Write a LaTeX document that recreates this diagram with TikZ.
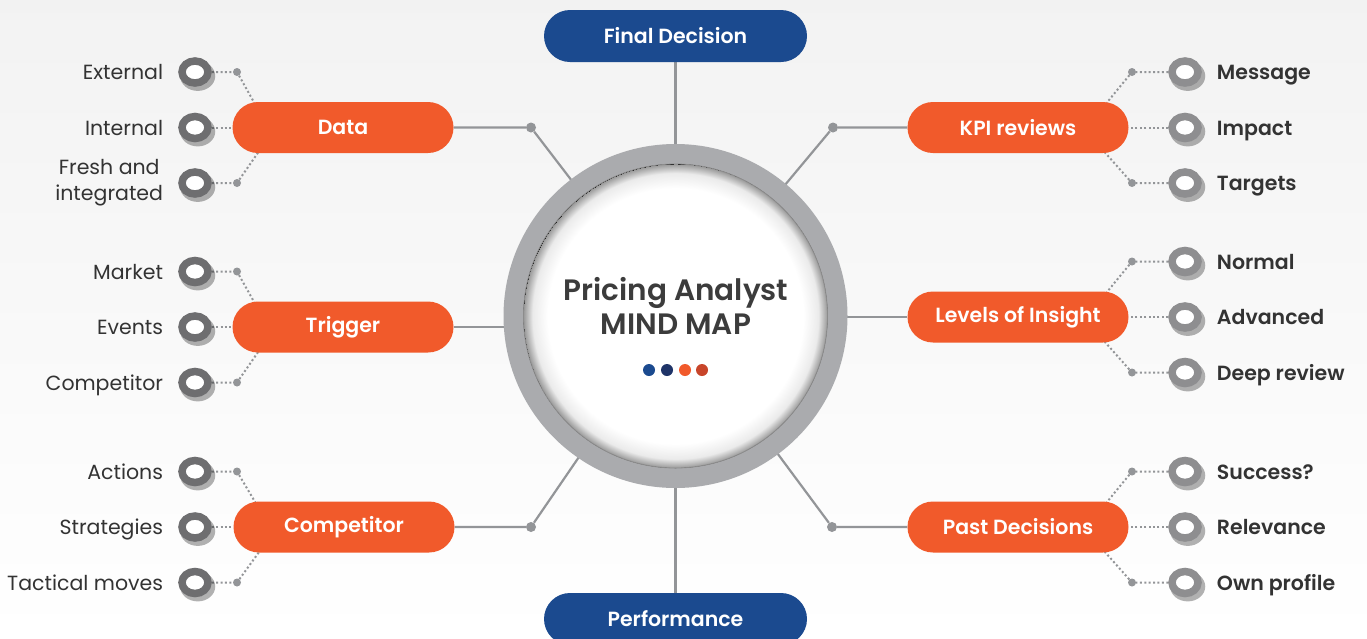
\documentclass[tikz,border=0pt]{standalone}
\usepackage{fontspec}
\setmainfont{Poppins}[BoldFont={Poppins SemiBold}]
\usetikzlibrary{calc,shadows,shapes.geometric}
\definecolor{orng}{HTML}{F15A2B}
\definecolor{navy}{HTML}{1B4A8F}
\definecolor{dotB}{HTML}{1F3468}
\definecolor{dotR}{HTML}{C8452A}
\definecolor{conncol}{HTML}{939598}
\definecolor{ringcol}{HTML}{AAABAE}
\definecolor{leafLcol}{HTML}{6E6E70}
\definecolor{leafRcol}{HTML}{8E8E90}
\definecolor{txt}{HTML}{333333}
\definecolor{ttlcol}{HTML}{3C3C3C}
\pgfdeclarelayer{back}
\pgfdeclarelayer{bg}
\pgfsetlayers{back,bg,main}
\pgfdeclareradialshading{innersh}{\pgfpoint{0bp}{0bp}}{color(0bp)=(white); color(21bp)=(white); color(23.5bp)=(black!8); color(25bp)=(black!40)}
\tikzset{
  pillO/.style={rectangle, rounded corners=25.5pt, fill=orng, text=white, font=\fontsize{20.5}{24}\selectfont\bfseries, minimum width=221pt, minimum height=51pt, inner sep=0pt},
  pillB/.style={rectangle, rounded corners=26pt, fill=navy, text=white, font=\fontsize{20.5}{24}\selectfont\bfseries, minimum width=263pt, minimum height=52pt, inner sep=0pt},
  leafL/.style={ellipse, draw=leafLcol, line width=7.5pt, fill=white, minimum width=26pt, minimum height=22pt, inner sep=0pt, drop shadow={shadow xshift=2pt, shadow yshift=-3pt, shadow scale=1.35, opacity=0.3, fill=black}},
  leafR/.style={leafL, draw=leafRcol},
  lblL/.style={text=txt, font=\fontsize{20.5}{26}\selectfont, align=center, inner sep=0pt},
  lblR/.style={text=txt, font=\fontsize{20.5}{26}\selectfont\bfseries, inner sep=0pt},
  jdot/.style={circle, fill=conncol, minimum size=8pt, inner sep=0pt},
  bigdot/.style={circle, fill=conncol, minimum size=10pt, inner sep=0pt},
  conn/.style={draw=conncol, line width=2.2pt},
  dotline/.style={draw=conncol, line width=2pt, dash pattern=on 2pt off 2.4pt},
  cdot/.style={circle, minimum size=12pt, inner sep=0pt}
}
\begin{document}
\begin{tikzpicture}[x=1pt,y=-1pt]
\begin{pgfonlayer}{back}
\fill[top color=black!5, bottom color=white] (0,0) rectangle (1367,638);
\end{pgfonlayer}
\useasboundingbox (0,0) rectangle (1367,638);

% centre
\node[circle, fill=ringcol, minimum size=344pt, inner sep=0pt] (circ) at (675.5,316) {};
\fill[shading=innersh] (circ.center) circle (152pt);
\draw[black!45, line width=0.8pt] (circ.center) circle (152pt);
\node[text=ttlcol, font=\fontsize{29.5}{34}\selectfont\bfseries, align=center] (ttl) at (676,306) {Pricing Analyst\\MIND MAP};
\node[cdot, fill=navy] (c1) at (649,370) {};
\node[cdot, fill=dotB] (c2) at (667,370) {};
\node[cdot, fill=orng] (c3) at (685,370) {};
\node[cdot, fill=dotR] (c4) at (702,370) {};

% main pills
\node[pillB] (fd) at (675.5,36) {Final Decision};
\node[pillB] (perf) at (675.5,619) {Performance};
\node[pillO] (data) at (343,127.5) {Data};
\node[pillO] (trig) at (343,327) {Trigger};
\node[pillO] (comp) at (344,527) {Competitor};
\node[pillO] (kpi) at (1018,127.5) {KPI reviews};
\node[pillO] (lev) at (1018,317) {Levels of Insight};
\node[pillO] (past) at (1018,527) {Past Decisions};

\node[bigdot] (dd) at (531,127.5) {};
\node[bigdot] (cd) at (531,527) {};
\node[bigdot] (kd) at (833,127.5) {};
\node[bigdot] (pd) at (832,527) {};

\begin{pgfonlayer}{bg}
\draw[conn] (fd) -- (circ);
\draw[conn] (perf) -- (circ);
\draw[conn] (data.east) -- (dd) -- (circ.center);
\draw[conn] (comp.east) -- (cd) -- (circ.center);
\draw[conn] (kpi.west) -- (kd) -- (circ.center);
\draw[conn] (past.west) -- (pd) -- (circ.center);
\draw[conn] (trig.east) -- (trig.east -| circ.center);
\draw[conn] (lev.west) -- (lev.west -| circ.center);
\end{pgfonlayer}

% left leaves
\foreach \p/\yc/\la/\lb in {data/127.5/External/Internal, trig/327/Market/Events, comp/527/Actions/Strategies}{
  \node[leafL] (\p-1) at (195,\yc-55.5) {};
  \node[leafL] (\p-2) at (195,\yc) {};
  \node[leafL] (\p-3) at (195,\yc+55.5) {};
  \node[jdot] (\p-d1) at (237,\yc-55.5) {};
  \node[jdot] (\p-d3) at (237,\yc+55.5) {};
  \node[lblL, anchor=base east] (\p-t1) at ($(\p-1.west)+(-15,7.5)$) {\la};
  \node[lblL, anchor=base east] (\p-t2) at ($(\p-2.west)+(-15,7.5)$) {\lb};
  \begin{pgfonlayer}{bg}
  \draw[dotline] (\p-1) -- (\p-d1) -- ($(\p.north west)+(22,1)$);
  \draw[dotline] (\p-2) -- (\p);
  \draw[dotline] (\p-3) -- (\p-d3) -- ($(\p.south west)+(26,-1)$);
  \end{pgfonlayer}
}
\node[lblL, anchor=east] (data-t3) at ($(data-3.west)+(-15,0)$) {Fresh and\\integrated};
\node[lblL, anchor=base east] (trig-t3) at ($(trig-3.west)+(-15,7.5)$) {Competitor};
\node[lblL, anchor=base east] (comp-t3) at ($(comp-3.west)+(-15,7.5)$) {Tactical moves};

% right leaves
\foreach \p/\yc/\la/\lb/\lc in {kpi/127.5/Message/Impact/Targets, lev/317/Normal/Advanced/Deep review, past/527/Success?/Relevance/Own profile}{
  \node[leafR] (\p-1) at (1185,\yc-55.5) {};
  \node[leafR] (\p-2) at (1185,\yc) {};
  \node[leafR] (\p-3) at (1185,\yc+55.5) {};
  \node[jdot] (\p-d1) at (1132,\yc-55.5) {};
  \node[jdot] (\p-d3) at (1132,\yc+55.5) {};
  \node[lblR, anchor=base west] at ($(\p-1.east)+(15,7.5)$) {\la};
  \node[lblR, anchor=base west] at ($(\p-2.east)+(15,7.5)$) {\lb};
  \node[lblR, anchor=base west] at ($(\p-3.east)+(15,7.5)$) {\lc};
  \begin{pgfonlayer}{bg}
  \draw[dotline] (\p-1) -- (\p-d1) -- ($(\p.north east)+(-22,1)$);
  \draw[dotline] (\p-2) -- (\p);
  \draw[dotline] (\p-3) -- (\p-d3) -- ($(\p.south east)+(-24,-1)$);
  \end{pgfonlayer}
}
\end{tikzpicture}
\end{document}
